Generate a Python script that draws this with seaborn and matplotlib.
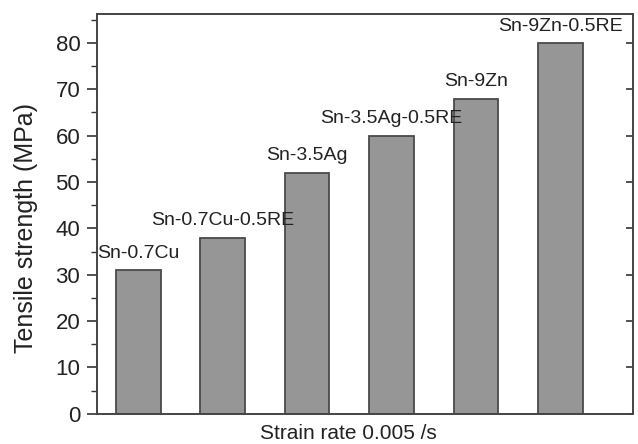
import numpy as np
import pandas as pd
import matplotlib
matplotlib.use("Agg")
import matplotlib.pyplot as plt
import seaborn as sns
from matplotlib.ticker import MultipleLocator

# values
alloys = ['Sn-0.7Cu', 'Sn-0.7Cu-0.5RE', 'Sn-3.5Ag', 'Sn-3.5Ag-0.5RE', 'Sn-9Zn', 'Sn-9Zn-0.5RE']
strength = [31, 38, 52, 60, 68, 80]

df = pd.DataFrame({'Alloy': alloys, 'Tensile strength (MPa)': strength})

sns.set_style('ticks')
plt.rcParams['font.family'] = ['Liberation Sans', 'DejaVu Sans']

fig = plt.figure(figsize=(6.38, 4.44), dpi=100)
ax = fig.add_axes([0.152, 0.068, 0.840, 0.900])

sns.barplot(x='Alloy', y='Tensile strength (MPa)', data=df, ax=ax,
            color='#969696', edgecolor='#4a4a4a', linewidth=1.3,
            width=0.53, saturation=1)

# label each bar with its alloy name
for i, (name, val) in enumerate(zip(alloys, strength)):
    ax.annotate(name, xy=(i, val), xytext=(0, 6), textcoords='offset points',
                ha='center', va='bottom', fontsize=14, color='#222222')

ax.set_xlim(-0.49, 5.86)
ax.set_ylim(0, 86.2)
ax.set_xticks([])
ax.yaxis.set_major_locator(MultipleLocator(10))
ax.yaxis.set_minor_locator(MultipleLocator(5))
ax.tick_params(axis='y', which='major', direction='out', length=7, width=1.2, pad=5,
               labelsize=16, colors='#333333', labelcolor='#222222')
ax.tick_params(axis='y', which='minor', direction='out', length=4, width=1.0, colors='#333333')

# right spine has inward major ticks only
sec = ax.secondary_yaxis('right')
sec.yaxis.set_major_locator(MultipleLocator(10))
sec.tick_params(direction='in', length=5, width=1.2, labelright=False, colors='#333333')
sec.spines['right'].set_visible(False)

for s in ax.spines.values():
    s.set_visible(True)
    s.set_color('#444444')
    s.set_linewidth(1.4)

ax.set_xlabel('Strain rate 0.005 /s', fontsize=15, color='#222222')
ax.xaxis.set_label_coords(0.47, -0.026, transform=ax.transAxes)
ax.xaxis.label.set_va('top')
ax.set_ylabel('Tensile strength (MPa)', fontsize=18, color='#222222')
ax.yaxis.set_label_coords(-0.11, 0.465)

fig.savefig('out.png', dpi=100)
